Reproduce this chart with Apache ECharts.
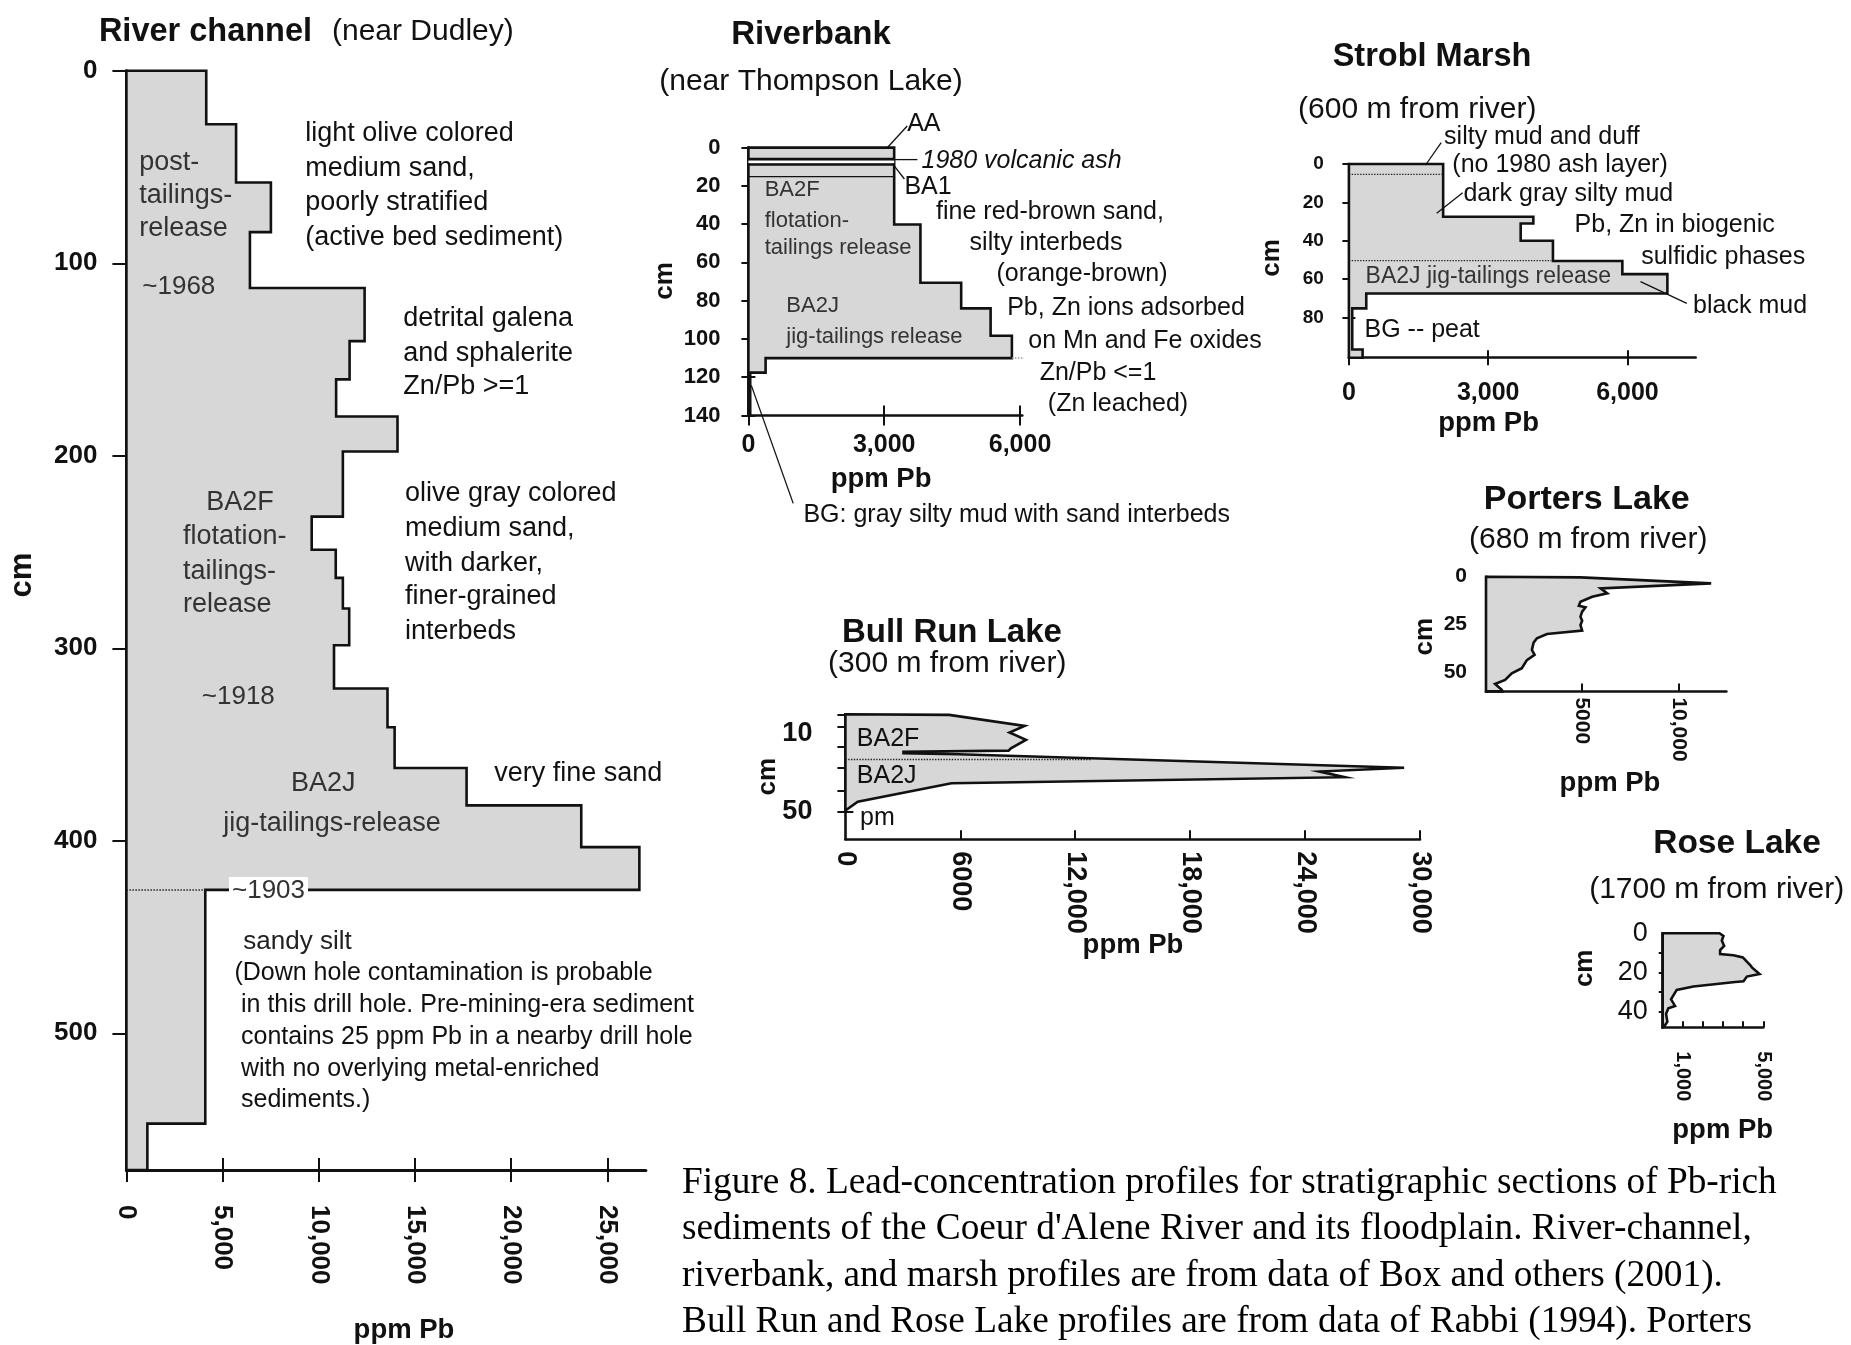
<!DOCTYPE html>
<html><head><meta charset="utf-8">
<script src="https://cdn.jsdelivr.net/npm/echarts@6/dist/echarts.min.js"></script>
<style>html,body{margin:0;padding:0;background:#fff}#c{width:1851px;height:1345px}</style>
</head><body><div id="c"></div>
<script>
// ---------------- DATA ----------------
// River channel (near Dudley): layer tops (cm) and ppm Pb of each layer
const rcTop = [0, 27.8, 58, 83.8, 112.8, 140.4, 160.3, 179.6, 197.8, 231.6, 248.8, 263.4, 279.3, 298.4, 320.9, 341, 362.2, 381.6, 403.3, 425.5, 546.9];
const rcPb  = [4150, 5700, 7510, 6420, 12380, 11600, 10900, 14090, 11250, 9630, 10880, 11250, 11580, 10790, 13570, 13940, 17680, 23640, 26660, 4100, 1090];
const rcBottom = 571;
const rc1903 = [[0, 425.5], [4100, 425.5]];
const rcXTicks = [0, 5000, 10000, 15000, 20000, 25000];
const rcYTicks = [0, 100, 200, 300, 400, 500];

// Riverbank (near Thompson Lake)
const rbTop = [0, 40.2, 70.6, 84.0, 98.3, 110, 117.6];
const rbPb  = [3220, 3800, 4700, 5350, 5820, 380, 40];
const rbBottom = 140;
const rbAshTop = [[0, 6.0], [3220, 6.0]];
const rbAshMid = [[0, 7.4], [3220, 7.4]];
const rbAshBot = [[0, 8.8], [3220, 8.8]];
const rbBA1    = [[0, 15.2], [3220, 15.2]];
const rbDot    = [[5820, 110], [6520, 110]];
const rbXTicks = [0, 3000, 6000];
const rbYTicks = [0, 20, 40, 60, 80, 100, 120, 140];

// Strobl Marsh (600 m from river)
const smTop = [0, 27.5, 31, 40, 50.6, 57.4, 67.5, 75.3, 96.7];
const smPb  = [2030, 3973, 3700, 4395, 5890, 6860, 374, 72, 295];
const smBottom = 101;
const smDot1 = [[0, 5.4], [2030, 5.4]];
const smDot2 = [[0, 50.4], [4355, 50.4]];
const smXTicks = [0, 3000, 6000];
const smYTicks = [0, 20, 40, 60, 80];

// Porters Lake (680 m from river): outline points
const plPb    = [0, 4912, 11706, 5958, 6306, 5522, 4912, 4825, 5174, 5000, 4912, 5000, 4912, 5000, 3170, 2648, 2474, 2387, 2526, 2125, 1864, 1341, 993, 470, 819, 850, 0];
const plDepth = [0, 0.35, 3.5, 6.1, 8.7, 10.5, 13.1, 15.2, 16, 18.3, 20.9, 23, 25.3, 28.2, 30, 32.2, 34.5, 38.3, 40.9, 43.6, 47.9, 50.5, 54, 56.1, 59.2, 60, 60];
const plXTicks = [5000, 10000];
const plYTicks = [25, 50];
const plYLabels = [0, 25, 50];

// Bull Run Lake (300 m from river): outline points
const brPb    = [0, 5418, 9357, 8569, 9428, 8641, 8521, 3031, 3031, 5896, 29170, 24753, 26066, 5538, 644, 0];
const brDepth = [0, 0.3, 6, 9.4, 13.2, 17.5, 18.7, 19.3, 20.1, 20.6, 27.5, 29.5, 32.4, 35.5, 45, 49.6];
const brDot = [[0, 23.3], [12820, 23.3]];
const brXTicks = [0, 6000, 12000, 18000, 24000, 30000];
const brYTicks = [0, 6.4, 16.9, 27.7, 39.4, 50];
const brYLabels = [10, 50];

// Rose Lake (1700 m from river): outline points
const rlPb    = [0, 2822, 3021, 2938, 3054, 2855, 2855, 3519, 3984, 4183, 4349, 4432, 4814, 4183, 4017, 3602, 1527, 697, 415, 614, 282, 166, 232, 66, 0];
const rlDepth = [0, 0, 1.4, 3.7, 6.5, 8.5, 10.6, 11.2, 12.3, 14.5, 16.2, 17.4, 20.8, 22.1, 24.5, 24.9, 27.2, 28.9, 33.7, 37.1, 38.3, 41.2, 45.1, 47.7, 48];
const rlXTicks = [1000, 2000, 3000, 4000, 5000];
const rlXLabels = [1000, 5000];
const rlYTicks = [10, 20, 30, 40];
const rlYLabels = [0, 20, 40];

const caption = [
  "Figure 8. Lead-concentration profiles for stratigraphic sections of Pb-rich",
  "sediments of the Coeur d'Alene River and its floodplain. River-channel,",
  "riverbank, and marsh profiles are from data of Box and others (2001).",
  "Bull Run and Rose Lake profiles are from data of Rabbi (1994). Porters"
];

// ---------------- BUILD ----------------
const FONT = "'Liberation Sans', Arial, Helvetica, sans-serif";
const SERIF = "'Liberation Serif', 'Times New Roman', serif";
const INK = '#111';
const FILL = '#d7d7d7';
const comma = v => String(v).replace(/\B(?=(\d{3})+(?!\d))/g, ',');
const comma5 = v => v >= 10000 ? comma(v) : String(v);

function stepPoints(tops, vals, bottom) {
  const pts = [[0, tops[0]]];
  for (let i = 0; i < tops.length; i++) {
    const b = i + 1 < tops.length ? tops[i + 1] : bottom;
    pts.push([vals[i], tops[i]], [vals[i], b]);
  }
  pts.push([0, bottom]);
  return pts;
}
function zipPts(xs, ys) { return xs.map((x, i) => [x, ys[i]]); }

const grid = [], xAxis = [], yAxis = [], series = [];
const tickStyle = { color: INK, width: 2 };

function panel(p) {
  const gi = grid.length;
  grid.push({ left: p.left, top: p.top, width: p.width, height: p.height, containLabel: false, outerBoundsMode: 'none' });
  const xi = xAxis.length;
  xAxis.push({
    type: 'value', gridIndex: gi, min: 0, max: p.xMax, position: 'bottom', splitLine: { show: false },
    axisLine: { show: true, onZero: false, lineStyle: { color: INK, width: p.lw } },
    axisTick: { show: true, inside: !!p.xIn, length: p.xTl, customValues: p.xTicks, lineStyle: tickStyle },
    axisLabel: { show: true, customValues: p.xLabels, formatter: p.xFmt, rotate: p.xRot || 0, margin: p.xMg,
      fontFamily: FONT, fontWeight: 'bold', fontSize: p.xFs, color: INK }
  });
  if (p.xCross) xAxis.push({
    type: 'value', gridIndex: gi, min: 0, max: p.xMax, position: 'bottom', splitLine: { show: false },
    axisLine: { show: false, onZero: false }, axisLabel: { show: false },
    axisTick: { show: true, inside: true, length: p.xTl, customValues: p.xTicks, lineStyle: tickStyle }
  });
  const yi = yAxis.length;
  yAxis.push({
    type: 'value', gridIndex: gi, min: 0, max: p.yMax, inverse: true, position: 'left', splitLine: { show: false },
    axisLine: { show: true, onZero: false, lineStyle: { color: INK, width: p.lw } },
    axisTick: { show: true, inside: !!p.yIn, length: p.yTl, customValues: p.yTicks, lineStyle: tickStyle },
    axisLabel: { show: true, customValues: p.yLabels, margin: p.yMg, fontFamily: FONT,
      fontWeight: p.yFw || 'bold', fontSize: p.yFs, color: INK }
  });
  if (p.yCross) yAxis.push({
    type: 'value', gridIndex: gi, min: 0, max: p.yMax, inverse: true, position: 'left', splitLine: { show: false },
    axisLine: { show: false, onZero: false }, axisLabel: { show: false },
    axisTick: { show: true, inside: true, length: p.yTl, customValues: p.yTicks, lineStyle: tickStyle }
  });
  return { xi, yi };
}

function profile(ax, pts) {
  series.push({
    type: 'custom', xAxisIndex: ax.xi, yAxisIndex: ax.yi, data: pts, encode: { x: 0, y: 1 },
    silent: true, animation: false, z: 2,
    renderItem: function (params, api) {
      if (params.dataIndex !== 0) return null;
      return { type: 'polygon', shape: { points: pts.map(p => api.coord(p)) },
        style: { fill: FILL, stroke: INK, lineWidth: 2.6, lineJoin: 'miter' } };
    }
  });
}
function seg(ax, pts, style, z) {
  series.push({ type: 'line', xAxisIndex: ax.xi, yAxisIndex: ax.yi, data: pts, symbol: 'none',
    silent: true, animation: false, clip: false, z: z || 3, lineStyle: style });
}

// River channel
const A1 = panel({ left: 126.4, top: 70.8, width: 519.5, height: 1099.2, xMax: 27000, yMax: 571, lw: 3,
  xTicks: rcXTicks, xLabels: rcXTicks, xFmt: comma, xRot: -90, xMg: 35, xFs: 26, xTl: 12, xCross: true,
  yTicks: rcYTicks, yLabels: rcYTicks, yMg: 29, yFs: 26, yTl: 14, yCross: true });
profile(A1, stepPoints(rcTop, rcPb, rcBottom));
seg(A1, rc1903, { color: '#222', width: 1.5, type: 'dotted' });

// Riverbank
const A2 = panel({ left: 748.4, top: 147.6, width: 273.9, height: 267.9, xMax: 6050, yMax: 140, lw: 2.6,
  xTicks: rbXTicks, xLabels: rbXTicks, xFmt: comma, xMg: 17, xFs: 25, xTl: 10, xCross: true,
  yTicks: rbYTicks, yLabels: rbYTicks, yMg: 28, yFs: 22, yTl: 7, yCross: true });
profile(A2, stepPoints(rbTop, rbPb, rbBottom));
seg(A2, rbAshMid, { color: '#fff', width: 3.2 }, 3);
seg(A2, rbAshTop, { color: INK, width: 2.6 }, 4);
seg(A2, rbAshBot, { color: INK, width: 2.6 }, 4);
seg(A2, rbBA1, { color: INK, width: 1.2 }, 4);
seg(A2, rbDot, { color: '#999', width: 1.5, type: 'dotted' });

// Strobl Marsh
const A3 = panel({ left: 1348.9, top: 164, width: 346.8, height: 193.7, xMax: 7470, yMax: 101, lw: 2.6,
  xTicks: smXTicks, xLabels: smXTicks, xFmt: comma, xMg: 23, xFs: 25, xTl: 7.5, xCross: true,
  yTicks: smYTicks, yLabels: smYTicks, yMg: 25, yFs: 19, yTl: 6.5, yCross: true });
profile(A3, stepPoints(smTop, smPb, smBottom));
seg(A3, smDot1, { color: '#222', width: 1.4, type: 'dotted' });
seg(A3, smDot2, { color: '#222', width: 1.4, type: 'dotted' });

// Porters Lake
const A4 = panel({ left: 1486, top: 576.7, width: 240.4, height: 114.7, xMax: 12500, yMax: 60, lw: 2.6,
  xTicks: plXTicks, xLabels: plXTicks, xFmt: comma5, xRot: -90, xMg: 6, xFs: 21, xTl: 8, xIn: true,
  yTicks: plYTicks, yLabels: plYLabels, yMg: 19, yFs: 21, yTl: 11, yIn: true });
profile(A4, zipPts(plPb, plDepth));

// Bull Run Lake
const A5 = panel({ left: 845.4, top: 714.3, width: 574.6, height: 125, xMax: 30000, yMax: 64.4, lw: 2.6,
  xTicks: brXTicks.slice(1), xLabels: brXTicks, xFmt: comma5, xRot: -90, xMg: 12, xFs: 27, xTl: 9, xIn: true,
  yTicks: brYTicks, yLabels: brYLabels, yMg: 33, yFs: 27, yTl: 8, yCross: true });
profile(A5, zipPts(brPb, brDepth));
seg(A5, brDot, { color: '#222', width: 1.4, type: 'dotted' });

// Rose Lake
const A6 = panel({ left: 1662.7, top: 933.3, width: 100.6, height: 94, xMax: 5000, yMax: 48, lw: 2.6,
  xTicks: rlXTicks, xLabels: rlXLabels, xFmt: comma, xRot: -90, xMg: 24, xFs: 20, xTl: 6, xIn: true,
  yTicks: rlYTicks, yLabels: rlYLabels, yMg: 15, yFs: 27, yFw: 'normal', yTl: 4, yCross: true });
profile(A6, zipPts(rlPb, rlDepth));

// ---------------- TEXT ANNOTATIONS ----------------
const G = [];
function T(x, y, text, size, opt) {
  opt = opt || {};
  const font = (opt.italic ? 'italic ' : '') + (opt.bold ? 'bold ' : '') + size + 'px ' + (opt.family || FONT);
  const st = { text: text, font: font, fill: opt.color || INK, align: opt.align || 'left', verticalAlign: 'middle',
    textAlign: opt.align || 'left', textVerticalAlign: 'middle' };
  if (opt.bg) { st.backgroundColor = opt.bg; st.padding = [1, 3]; }
  const el = { type: 'text', x: x, y: y, silent: true, z: 100, style: st };
  if (opt.rot) el.rotation = opt.rot;
  G.push(el);
}
function L(x1, y1, x2, y2) {
  G.push({ type: 'line', silent: true, z: 100, shape: { x1, y1, x2, y2 }, style: { stroke: INK, lineWidth: 1.3 } });
}
const GRAY = '#333';
const UP = Math.PI / 2;

// River channel
T(98.9, 31.7, 'River channel', 32.5, { bold: true });
T(332, 31.7, '(near Dudley)', 30);
T(139.2, 163, 'post-', 27, { color: GRAY });
T(139.2, 196, 'tailings-', 27, { color: GRAY });
T(139.2, 229, 'release', 27, { color: GRAY });
T(142.3, 286.7, '~1968', 26, { color: GRAY });
T(305.2, 133.4, 'light olive colored', 27);
T(305.2, 168.5, 'medium sand,', 27);
T(305.2, 203, 'poorly stratified', 27);
T(305.2, 237.3, '(active bed sediment)', 27);
T(403.3, 318.3, 'detrital galena', 27);
T(403.3, 353.3, 'and sphalerite', 27);
T(403.3, 386.7, 'Zn/Pb >=1', 27);
T(206.2, 502.7, 'BA2F', 27, { color: GRAY });
T(183, 536.7, 'flotation-', 27, { color: GRAY });
T(183, 571.7, 'tailings-', 27, { color: GRAY });
T(183, 605, 'release', 27, { color: GRAY });
T(201.8, 697.3, '~1918', 26, { color: GRAY });
T(404.9, 493.3, 'olive gray colored', 27);
T(404.9, 528.3, 'medium sand,', 27);
T(404.9, 563.3, 'with darker,', 27);
T(404.9, 596.7, 'finer-grained', 27);
T(404.9, 631.7, 'interbeds', 27);
T(494.2, 773.3, 'very fine sand', 27);
T(291, 784, 'BA2J', 27, { color: GRAY });
T(223.2, 824, 'jig-tailings-release', 27, { color: GRAY });
T(229, 891, '~1903', 26, { color: GRAY, bg: '#fff' });
T(243.3, 941.7, 'sandy silt', 26, { color: '#222' });
T(234.4, 973.3, '(Down hole contamination is probable', 25);
T(241, 1005.5, 'in this drill hole. Pre-mining-era sediment', 25);
T(241, 1037, 'contains 25 ppm Pb in a nearby drill hole', 25);
T(241, 1069, 'with no overlying metal-enriched', 25);
T(241, 1100, 'sediments.)', 25);
T(22.3, 575, 'cm', 31, { bold: true, align: 'center', rot: UP });
T(404, 1330, 'ppm Pb', 27.5, { bold: true, align: 'center' });

// Riverbank
T(811, 34.7, 'Riverbank', 33, { bold: true, align: 'center' });
T(811, 82, '(near Thompson Lake)', 30, { align: 'center' });
T(907.2, 123.7, 'AA', 25);
T(921.5, 160.6, '1980 volcanic ash', 25, { italic: true });
T(904.4, 187, 'BA1', 25);
T(764.7, 189.7, 'BA2F', 22, { color: GRAY });
T(764.7, 220.5, 'flotation-', 22, { color: GRAY });
T(764.7, 247.8, 'tailings release', 22, { color: GRAY });
T(786.3, 306, 'BA2J', 22, { color: GRAY });
T(786.3, 336.8, 'jig-tailings release', 22, { color: GRAY });
T(1050, 212.6, 'fine red-brown sand,', 25, { align: 'center' });
T(1046, 243.4, 'silty interbeds', 25, { align: 'center' });
T(1082, 274.2, '(orange-brown)', 25, { align: 'center' });
T(1126, 308.4, 'Pb, Zn ions adsorbed', 25, { align: 'center' });
T(1145, 340.9, 'on Mn and Fe oxides', 25, { align: 'center' });
T(1098, 372.7, 'Zn/Pb <=1', 25, { align: 'center' });
T(1118, 404.2, '(Zn leached)', 25, { align: 'center' });
T(665, 281, 'cm', 26, { bold: true, align: 'center', rot: UP });
T(881.1, 479.4, 'ppm Pb', 27.5, { bold: true, align: 'center' });
T(803.4, 515, 'BG: gray silty mud with sand interbeds', 25);
L(886.8, 148.3, 907.2, 126);
L(893.8, 165.4, 904.4, 179);
L(895, 159.6, 917.4, 159.6);
L(751.3, 385.4, 793.2, 503.4);

// Strobl Marsh
T(1432, 56.7, 'Strobl Marsh', 32.5, { bold: true, align: 'center' });
T(1417.3, 109.3, '(600 m from river)', 30, { align: 'center' });
T(1444.1, 136.7, 'silty mud and duff', 25);
T(1452.3, 165, '(no 1980 ash layer)', 25);
T(1463.4, 194, 'dark gray silty mud', 25);
T(1574.6, 225, 'Pb, Zn in biogenic', 25);
T(1641.2, 257.3, 'sulfidic phases', 25);
T(1365.6, 276.7, 'BA2J jig-tailings release', 23, { color: GRAY });
T(1693.1, 306, 'black mud', 25);
T(1364.5, 330, 'BG -- peat', 25);
T(1272, 258, 'cm', 26, { bold: true, align: 'center', rot: UP });
T(1488.6, 423.3, 'ppm Pb', 27.5, { bold: true, align: 'center' });
L(1425.6, 165, 1441.2, 142.7);
L(1436.7, 213.3, 1462.7, 192.7);
L(1640.5, 281.7, 1686.8, 303.3);

// Porters Lake
T(1586.7, 500, 'Porters Lake', 34, { bold: true, align: 'center' });
T(1588.3, 540, '(680 m from river)', 30, { align: 'center' });
T(1425, 636.7, 'cm', 26, { bold: true, align: 'center', rot: UP });
T(1610, 783.3, 'ppm Pb', 27.5, { bold: true, align: 'center' });

// Bull Run Lake
T(951.9, 633.3, 'Bull Run Lake', 33, { bold: true, align: 'center' });
T(947.3, 663.3, '(300 m from river)', 30, { align: 'center' });
T(856.8, 739, 'BA2F', 25);
T(856.8, 776.5, 'BA2J', 25);
T(860, 818, 'pm', 25);
T(768.2, 776.7, 'cm', 26, { bold: true, align: 'center', rot: UP });
T(1133, 945, 'ppm Pb', 27.5, { bold: true, align: 'center' });

// Rose Lake
T(1737, 843.3, 'Rose Lake', 33.5, { bold: true, align: 'center' });
T(1716.7, 890, '(1700 m from river)', 30, { align: 'center' });
T(1585, 968.3, 'cm', 26, { bold: true, align: 'center', rot: UP });
T(1722.7, 1130, 'ppm Pb', 27.5, { bold: true, align: 'center' });

// Caption
const capY = [1183, 1229.5, 1276, 1322];
caption.forEach((s, i) => T(682, capY[i], s, 37.3, { family: SERIF, color: '#000' }));

const chart = echarts.init(document.getElementById('c'), null, { renderer: 'canvas' });
chart.setOption({
  animation: false,
  backgroundColor: '#fff',
  grid: grid, xAxis: xAxis, yAxis: yAxis, series: series,
  graphic: { elements: G }
});
</script></body></html>
